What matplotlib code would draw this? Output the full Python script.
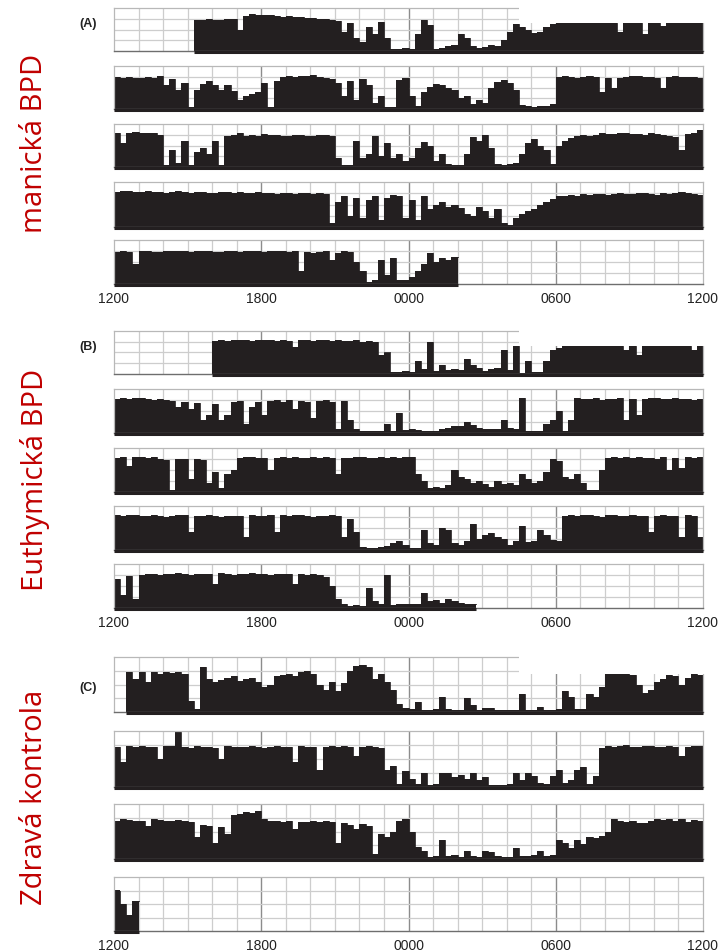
import numpy as np
import matplotlib
matplotlib.use("Agg")
import matplotlib.pyplot as plt
from matplotlib.patches import Rectangle

N = None

# ---- tick labels (24 h actogram, 12:00 -> 12:00) ----
tick_bins = [0, 24, 48, 72, 96]
tick_labels = ["1200", "1800", "0000", "0600", "1200"]
panel_letters = ["(A)", "(B)", "(C)"]
group_names = ["manická BPD", "Euthymická BPD", "Zdravá kontrola"]

# Activity in 15-minute bins, % of row height; one inner list = one hour (12h ... 11h)
A1 = [[N,N,N,N],[N,N,N,N],[N,N,N,N],[N,72,73,74],[72,73,75,74],[50,82,85,84],
      [83,84,82,80],[81,80,79,77],[76,75,74,73],[70,45,65,30],[20,55,40,68],[30,5,5,6],
      [5,40,72,60],[5,8,12,15],[40,30,12,8],[10,15,12,25],[45,62,55,50],[42,45,55,62],
      [66,66,66,66],[66,66,66,66],[66,66,45,66],[66,66,40,66],[66,58,66,66],[66,66,66,66]]
A2 = [[74,72,75,73],[72,74,73,76],[55,70,45,60],[5,45,58,64],[55,45,55,42],[20,30,35,40],
      [60,5,65,74],[76,75,77,76],[78,74,72,70],[60,30,65,20],[70,55,15,30],[5,5,68,72],
      [30,8,40,52],[58,55,50,45],[25,30,12,20],[15,50,62,68],[60,45,10,8],[5,6,8,12],
      [75,76,74,73],[75,76,74,40],[72,50,73,74],[76,77,75,74],[73,50,74,76],[75,74,75,73]]
A3 = [[78,55,80,82],[79,80,78,74],[5,40,10,60],[5,35,45,30],[60,5,72,75],[80,72,74,73],
      [76,75,74,72],[73,74,75,73],[72,74,75,73],[20,5,5,60],[20,30,72,25],[55,20,30,15],
      [20,45,58,50],[15,30,8,5],[5,30,70,60],[75,45,8,5],[8,10,30,55],[65,50,40,8],
      [50,60,68,72],[74,73,75,78],[76,77,80,78],[76,77,75,78],[76,74,72,70],[40,76,80,85]]
A4 = [[78,80,79,78],[77,79,78,77],[76,78,79,77],[76,78,77,76],[75,77,78,76],[77,75,76,77],
      [76,75,74,76],[75,74,76,75],[74,75,74,10],[55,70,25,65],[20,60,70,15],[65,72,70,20],
      [60,15,70,40],[50,55,45,50],[42,30,25,45],[35,20,40,10],[5,20,30,35],[40,50,55,62],
      [68,70,72,70],[73,72,74,73],[72,74,75,73],[74,76,75,74],[72,75,73,76],[78,75,74,72]]
A5 = [[72,74,73,45],[74,75,73,72],[74,75,76,74],[73,75,74,76],[73,72,74,75],[73,74,76,75],
      [73,74,74,75],[73,74,30,72],[70,72,74,55],[70,75,72,50],[30,5,8,55],[20,60,10,10],
      [15,30,45,70],[50,60,55,62],[N,N,N,N],[N,N,N,N],[N,N,N,N],[N,N,N,N],
      [N,N,N,N],[N,N,N,N],[N,N,N,N],[N,N,N,N],[N,N,N,N],[N,N,N,N]]

B1 = [[N,N,N,N],[N,N,N,N],[N,N,N,N],[N,N,N,N],[76,78,77,79],[80,78,77,79],
      [80,78,77,79],[76,62,80,79],[77,78,79,77],[78,76,77,78],[75,77,74,45],[50,5,5,6],
      [5,30,12,75],[8,20,10,12],[10,35,20,15],[8,12,15,55],[10,65,3,30],[5,4,30,55],
      [60,66,66,66],[66,66,66,66],[66,66,66,55],[66,45,66,66],[66,66,66,66],[66,66,55,66]]
B2 = [[78,80,77,79],[80,78,76,77],[75,72,60,70],[55,68,30,40],[65,30,40,70],[72,20,60,70],
      [40,72,75,70],[74,55,73,70],[35,72,75,70],[10,72,30,8],[5,4,5,4],[20,5,45,6],
      [8,6,5,4],[5,10,12,15],[15,25,18,12],[10,8,10,30],[12,10,80,5],[4,4,20,30],
      [50,5,30,80],[78,77,79,76],[78,77,79,30],[78,40,77,79],[80,77,78,79],[77,78,76,78]]
B3 = [[78,80,60,79],[80,78,79,76],[72,5,75,74],[30,74,72,20],[45,10,40,50],[78,79,80,77],
      [78,50,78,80],[77,79,78,77],[80,78,79,77],[40,78,77,79],[80,78,77,79],[78,80,77,79],
      [80,40,25,8],[12,10,15,50],[35,30,20,25],[18,12,25,18],[20,15,40,30],[20,25,45,75],
      [70,35,30,40],[20,5,5,50],[78,79,77,80],[78,79,77,78],[76,79,50,78],[55,80,77,79]]
B4 = [[80,78,79,80],[77,78,79,77],[76,78,79,80],[40,78,77,79],[78,76,77,78],[78,30,80,78],
      [77,79,40,79],[77,80,79,78],[76,77,78,79],[77,30,70,40],[6,5,5,6],[8,15,20,12],
      [5,5,45,15],[12,50,45,15],[12,20,60,25],[35,38,30,25],[12,20,55,18],[20,45,35,22],
      [20,78,80,77],[79,80,78,76],[79,80,77,78],[79,78,77,40],[78,80,78,78],[30,80,77,30]]
B5 = [[65,30,72,20],[75,77,78,76],[77,78,79,77],[76,78,77,78],[55,79,77,76],[78,77,79,78],
      [77,76,78,77],[78,55,77,76],[77,76,70,50],[20,8,5,6],[5,45,15,10],[75,6,8,8],
      [8,10,35,15],[18,12,20,15],[12,10,10,N],[N,N,N,N],[N,N,N,N],[N,N,N,N],
      [N,N,N,N],[N,N,N,N],[N,N,N,N],[N,N,N,N],[N,N,N,N],[N,N,N,N]]

C1 = [[N,N,72,60],[72,55,72,70],[73,71,72,70],[20,5,82,60],[55,58,62,65],[57,60,62,55],
      [45,50,66,68],[70,65,72,74],[70,50,40,55],[38,52,75,84],[86,82,60,70],[55,40,15,8],
      [5,18,3,3],[5,28,6,3],[4,26,12,4],[8,7,3,4],[3,3,32,3],[3,10,3,3],
      [5,38,28,5],[6,32,28,45],[70,72,71,70],[68,50,35,40],[55,60,68,65],[50,62,70,68]]
C2 = [[72,45,73,72],[74,71,72,50],[73,74,98,72],[70,73,72,71],[70,50,73,72],[72,71,73,72],
      [70,72,73,71],[72,45,74,72],[72,30,71,73],[72,74,72,55],[71,73,72,70],[30,38,5,28],
      [15,5,25,4],[5,25,25,18],[22,15,25,12],[18,4,3,4],[5,25,12,25],[20,8,5,20],
      [30,8,12,30],[35,6,20,70],[74,72,73,75],[71,72,74,73],[72,71,73,72],[55,72,73,74]]
C3 = [[70,72,71,69],[70,60,72,71],[70,69,71,70],[68,40,62,60],[30,58,45,80],[82,85,84,88],
      [72,70,69,68],[70,55,67,68],[69,67,70,68],[30,65,62,55],[64,60,10,45],[40,50,70,72],
      [50,22,14,4],[5,35,6,8],[4,15,5,4],[14,12,5,4],[3,20,5,6],[8,15,5,8],
      [35,30,20,35],[28,40,38,42],[50,72,70,68],[69,65,66,70],[72,71,73,70],[72,68,71,70]]
C4 = [[75,50,30,55],[N,N,N,N],[N,N,N,N],[N,N,N,N],[N,N,N,N],[N,N,N,N],
      [N,N,N,N],[N,N,N,N],[N,N,N,N],[N,N,N,N],[N,N,N,N],[N,N,N,N],
      [N,N,N,N],[N,N,N,N],[N,N,N,N],[N,N,N,N],[N,N,N,N],[N,N,N,N],
      [N,N,N,N],[N,N,N,N],[N,N,N,N],[N,N,N,N],[N,N,N,N],[N,N,N,N]]

panels = [[A1, A2, A3, A4, A5], [B1, B2, B3, B4, B5], [C1, C2, C3, C4]]

# ---- layout (pixels) ----
W, H = 724, 952
LEFT, RIGHT = 114, 703
rows_px = [
    [(8, 51), (66, 109), (124, 167), (182, 227), (240, 284)],
    [(331, 374), (389, 433), (448, 492), (506, 550), (564, 608)],
    [(657, 712), (731, 787), (804, 859), (877, 931)],
]
mask_level = [65, 64, 69]        # top-right part of first row of each panel is blanked
letter_y = [24, 347, 688]
name_y = [143, 480, 797]

INK = "#231f20"
GRID = "#cdcdcd"
GRID6 = "#8c8c8c"

fig = plt.figure(figsize=(W / 100, H / 100), dpi=100)
fig.patch.set_facecolor("white")


def flat(row):
    v = [x for hour in row for x in hour]
    v = (v + [None] * 96)[:96]
    return np.array([np.nan if x is None else x for x in v], dtype=float)


def runs(mask):
    out, start = [], None
    for i, m in enumerate(mask):
        if m and start is None:
            start = i
        if not m and start is not None:
            out.append((start, i))
            start = None
    if start is not None:
        out.append((start, len(mask)))
    return out


for p, (rows, boxes) in enumerate(zip(panels, rows_px)):
    for r, (row, (top, bot)) in enumerate(zip(rows, boxes)):
        ax = fig.add_axes([LEFT / W, 1 - bot / H, (RIGHT - LEFT) / W, (bot - top) / H])
        ax.set_xlim(0, 96)
        ax.set_ylim(0, 100)
        for k in range(4, 96, 4):
            major = k % 24 == 0
            ax.axvline(k, color=GRID6 if major else GRID, lw=1.0 if major else 0.9, zorder=0.5)
        for yv in (25, 50, 75):
            ax.axhline(yv, color=GRID, lw=0.9, zorder=0.5)
        vals = flat(row)
        ok = ~np.isnan(vals)
        for a, b in runs(ok):
            xs = np.arange(a, b + 1)
            ys = np.append(vals[a:b], vals[b - 1])
            ax.fill_between(xs, 0, ys, step="post", color=INK, linewidth=0, zorder=2)
            ax.step(xs, ys, where="post", color=INK, lw=0.6, zorder=2.1)
            ax.plot([a, b], [-2.5, -2.5], color=INK, lw=2.2,
                    solid_capstyle="butt", clip_on=False, zorder=3)
        for side in ("left", "right", "top"):
            ax.spines[side].set_color("#b8b8b8")
            ax.spines[side].set_linewidth(0.9)
        ax.spines["bottom"].set_color("#6e6e6e")
        ax.spines["bottom"].set_linewidth(1.0)
        ax.set_yticks([])
        if r == 0:
            ax.add_patch(Rectangle((66, mask_level[p]), 32, 45, facecolor="white",
                                   edgecolor="none", zorder=6, clip_on=False))
        if r == len(rows) - 1:
            ax.set_xticks(tick_bins)
            ax.set_xticklabels(tick_labels, fontfamily="Liberation Sans",
                               fontsize=10, color="#222222")
            ax.tick_params(axis="x", length=0, pad=6)
        else:
            ax.set_xticks([])

    fig.text(97 / W, 1 - letter_y[p] / H, panel_letters[p], ha="right", va="center",
             fontfamily="Liberation Sans", fontweight="bold", fontsize=9, color="#222222")
    fig.text(35 / W, 1 - name_y[p] / H, group_names[p], rotation=90, ha="center",
             va="center", fontfamily="Open Sans", fontsize=21, color="#c00000")

fig.savefig("out.png", dpi=100, facecolor="white")
